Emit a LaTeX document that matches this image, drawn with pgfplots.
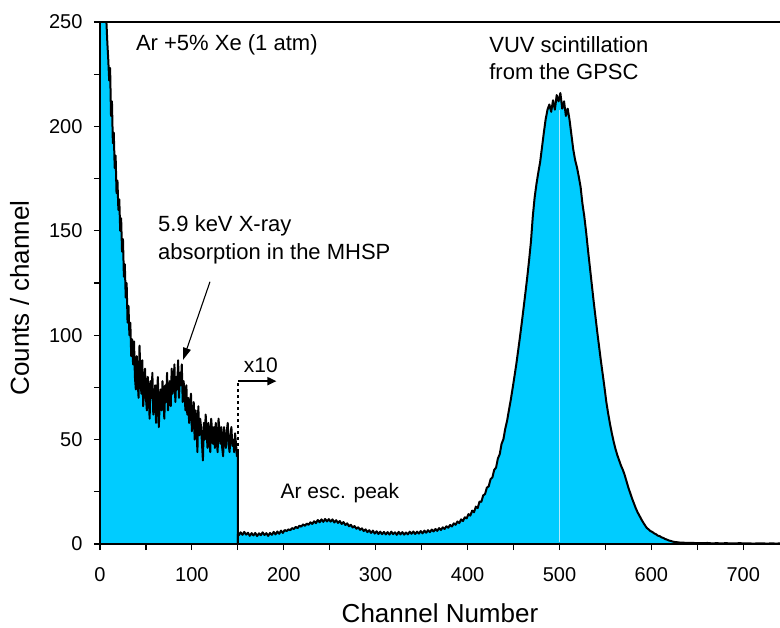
\documentclass[border=0pt]{standalone}
\usepackage{pgfplots}
\pgfplotsset{compat=1.18}
\usepackage{fontspec}
\setmainfont{Liberation Sans}
\usetikzlibrary{arrows.meta}
\definecolor{fillc}{RGB}{0,204,255}
\definecolor{lightl}{RGB}{175,235,255}
\begin{document}
\begin{tikzpicture}
\begin{axis}[
  name=ax,
  scale only axis,
  width=680pt, height=522pt,
  xmin=0, xmax=740, ymin=0, ymax=250,
  axis x line=box, axis y line=left,
  axis line style={-, line width=1.5pt, black},
  xtick={0,100,...,700}, minor xtick={50,150,...,750},
  ytick={0,50,...,250}, minor ytick={25,75,...,225},
  xtick pos=bottom,
  tick align=outside,
  major tick length=6pt, minor tick length=6pt,
  every tick/.style={black, line width=1.2pt},
  /pgf/number format/assume math mode=true,
  ticklabel style={font=\fontsize{20}{24}\selectfont},
  xticklabel style={yshift=-14pt},
  yticklabel style={xshift=-8pt},
  xlabel={Channel Number}, ylabel={Counts / channel},
  label style={font=\fontsize{26}{30}\selectfont},
  xlabel style={yshift=-15pt},
  ylabel style={yshift=13pt, xshift=-15pt},
  clip=true,
  axis on top=true,
]
\addplot[draw=black, line width=2pt, fill=fillc, line join=round] coordinates {
(0,280)(1,285)(2,275)(3,290)(4,270)(5,268)(6,262)(7,250)(8,240)(9,232)(10,222)(11,228)(12,205)(13,212)(14,192)(15,197)(16,180)(17,186)(18,168)(19,174)(20,160)(21,165)(22,150)(23,156)(24,140)(25,146)(26,128)(27,134)(28,118)(29,125)(30,106)(31,114)(32,100)(33,106)(34,90)(35,98)(36,86)(37,97)(38,80)(39,74)(40,90)(41,78)(42,70)(43,95)(44,82)(45,72)(46,88)(47,66)(48,74)(49,84)(50,70)(51,64)(52,80)(53,72)(54,60)(55,78)(56,70)(57,82)(58,62)(59,66)(60,76)(61,58)(62,72)(63,80)(64,56)(65,68)(66,74)(67,64)(68,78)(69,70)(70,60)(71,76)(72,68)(73,82)(74,64)(75,72)(76,78)(77,66)(78,84)(79,72)(80,76)(81,86)(82,68)(83,80)(84,74)(85,88)(86,70)(87,82)(88,76)(89,86)(90,68)(91,78)(92,72)(93,64)(94,76)(95,62)(96,70)(97,58)(98,66)(99,72)(100,54)(101,62)(102,68)(103,50)(104,64)(105,58)(106,44)(107,66)(108,52)(109,60)(110,56)(111,48)(112,40)(113,58)(114,50)(115,62)(116,54)(117,46)(118,58)(119,52)(120,44)(121,60)(122,54)(123,48)(124,56)(125,46)(126,58)(127,50)(128,44)(129,60)(130,54)(131,48)(132,56)(133,46)(134,42)(135,56)(136,50)(137,46)(138,54)(139,58)(140,48)(141,44)(142,52)(143,56)(144,47)(145,50)(146,44)(147,53)(148,48)(149,42)(150,44)
} \closedcycle;
\addplot[draw=black, line width=2pt, fill=fillc, line join=round] coordinates {
(150,4.8)(151,4.2)(153,5.6)(155,4.4)(157,5.8)(159,4.5)(161,5.4)(163,3.9)(165,5.2)(167,4.1)(169,5.3)(171,3.8)(173,5.1)(175,4.2)(177,5.6)(179,4.3)(181,5.2)(183,3.9)(185,5.3)(187,4.4)(189,5.8)(191,4.6)(193,6.0)(195,4.9)(197,6.4)(199,5.3)(201,6.7)(203,6.2)(205,7.0)(207,6.6)(209,7.6)(211,7.2)(213,8.2)(215,7.6)(217,8.8)(219,8.3)(221,9.4)(223,8.7)(225,9.8)(227,9.2)(229,10.4)(231,9.6)(233,10.9)(235,10.0)(237,11.5)(239,10.4)(241,11.8)(243,10.6)(245,12.0)(247,10.8)(249,11.9)(251,10.7)(253,11.8)(255,10.3)(257,11.4)(259,10.1)(261,11.0)(263,9.6)(265,10.5)(267,9.1)(269,9.9)(271,8.5)(273,9.2)(275,7.9)(277,8.6)(279,7.3)(281,8.0)(283,6.8)(285,7.5)(287,6.2)(289,7.0)(291,5.7)(293,6.6)(295,5.3)(297,6.4)(299,5.0)(301,6.1)(303,4.8)(305,5.9)(307,4.7)(309,5.8)(311,4.6)(313,5.7)(315,4.5)(317,5.9)(319,4.7)(321,5.6)(323,4.4)(325,5.8)(327,4.6)(329,5.7)(331,4.5)(333,5.5)(335,4.6)(337,5.9)(339,4.9)(341,6.0)(343,4.8)(345,5.9)(347,5.0)(349,6.2)(351,5.1)(353,6.4)(355,5.4)(357,6.6)(359,5.7)(361,6.9)(363,6.0)(365,7.2)(367,6.3)(369,7.6)(371,6.7)(373,8.0)(375,7.2)(377,8.5)(379,7.8)(381,9.1)(383,8.4)(385,9.9)(387,9.2)(389,10.8)(391,10.0)(393,11.8)(395,11.0)(397,12.8)(399,12.3)
(401,14.3)(403,13.6)(405,16.0)(407,15.2)(409,17.9)(411,17.2)(413,20.3)(415,20.2)(417,23.3)(419,23.9)(421,27.0)(423,27.6)(425,31.0)(427,31.9)(429,35.5)(431,36.6)(433,41.0)(435,43.0)(437,48.0)(439,50.2)(441,55.2)(443,59.0)(445,64.1)(447,69.0)(449,74.5)(451,80.2)(453,86.0)(455,92.5)(457,99.1)(459,106.0)(461,113.2)(463,120.5)(465,128.0)(467,136.1)(469,145.0)(471,157.0)(473,166.0)(475,172.5)(477,178.0)(479,183.0)(481,190.0)(483,197.0)(485,203.5)(487,208.0)(489,210.5)(491,207.0)(493,212.5)(495,208.0)(497,215.0)(499,212.0)(501,216.0)(503,208.5)(505,212.0)(507,205.0)(509,208.5)(511,203.0)(513,196.0)(515,189.0)(517,184.0)(519,180.5)(521,176.0)(523,171.0)(525,163.0)(527,157.0)(529,149.5)(531,141.0)(533,133.0)(535,125.0)(537,117.0)(539,109.5)(541,102.0)(543,95.0)(545,88.0)(547,81.5)(549,75.0)(551,68.0)(553,62.5)(555,57.5)(557,53.0)(559,49.0)(561,45.5)(563,42.5)(565,40.0)(567,37.5)(569,35.5)(571,33.0)(573,30.0)(575,27.0)(577,24.4)(579,21.8)(581,19.5)(583,17.2)(585,15.2)(587,13.6)(589,11.9)(591,10.4)(593,9.0)(595,7.7)(597,7.0)(599,6.2)(601,5.8)(603,5.1)(605,4.7)(607,4.0)(609,3.8)(611,3.2)(613,2.9)(615,2.4)(617,2.1)(619,1.7)(621,1.5)(623,1.2)(625,1.0)(627,0.9)(629,0.8)(631,0.7)(636,0.6)(641,0.5)(646,0.5)(651,0.4)(656,0.4)(661,0.5)(666,0.3)(671,0.4)(676,0.3)(681,0.4)(686,0.3)(691,0.3)(696,0.4)(701,0.3)(706,0.3)(711,0.2)(716,0.3)(721,0.3)(726,0.2)(731,0.3)(736,0.2)(740,0.3)
} \closedcycle;
\addplot[draw=lightl, line width=0.8pt] coordinates {(500,1)(500,208)};
\addplot[draw=black, line width=1.8pt, dashed] coordinates {(150,44)(150,78)};
\addplot[draw=black, line width=1.8pt, -{Triangle[length=9pt,width=8pt]}] coordinates {(150,78)(192,78)};
\addplot[draw=black, line width=1.1pt, -{Triangle[length=12pt,width=8pt]}] coordinates {(119.7,125.6)(90.4,88.2)};
\node[anchor=west, inner sep=0pt, font=\fontsize{22}{27}\selectfont] at (axis cs:39,239) {Ar +5\% Xe (1 atm)};
\node[anchor=west, inner sep=0pt, align=left, font=\fontsize{22}{27}\selectfont] at (axis cs:423.5,232.5) {VUV scintillation\\from the GPSC};
\node[anchor=west, inner sep=0pt, align=left, font=\fontsize{22}{28}\selectfont] at (axis cs:63,145.7) {5.9 keV X-ray\\absorption in the MHSP};
\node[inner sep=0pt, font=\fontsize{21}{25}\selectfont] at (axis cs:175,85.5) {x10};
\node[inner sep=0pt, font=\fontsize{21}{25}\selectfont] at (axis cs:261,24.5) {Ar esc. peak};
\end{axis}
\pgfresetboundingbox
\path[use as bounding box] ([shift={(-100pt,-83pt)}]ax.south west) rectangle ([shift={(0pt,22pt)}]ax.north east);
\end{tikzpicture}
\end{document}
